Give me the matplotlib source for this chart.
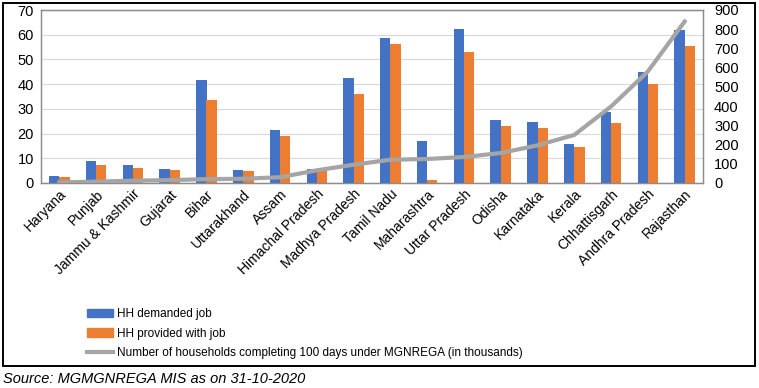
import numpy as np
import matplotlib
matplotlib.use("Agg")
import matplotlib.pyplot as plt
from matplotlib.patches import Rectangle, Patch
from matplotlib.lines import Line2D

states = ["Haryana", "Punjab", "Jammu & Kashmir", "Gujarat", "Bihar", "Uttarakhand",
          "Assam", "Himachal Pradesh", "Madhya Pradesh", "Tamil Nadu", "Maharashtra",
          "Uttar Pradesh", "Odisha", "Karnataka", "Kerala", "Chhattisgarh",
          "Andhra Pradesh", "Rajasthan"]
demanded = [3.0, 9.0, 7.1, 5.7, 41.7, 5.4, 21.5, 5.7, 42.3, 58.7, 17.1, 62.4,
            25.6, 24.6, 15.9, 28.9, 45.0, 61.9]
provided = [2.4, 7.4, 6.2, 5.2, 33.6, 4.8, 19.2, 5.1, 36.1, 56.4, 1.3, 53.0,
            23.1, 22.3, 14.4, 24.2, 40.1, 55.5]
completed_100 = [3, 7, 12, 15, 20, 22, 30, 66, 95, 121, 125, 135, 156, 196, 250,
                 398, 580, 840]

BLUE = "#4472c4"
ORANGE = "#ed7d31"
GREY = "#a5a5a5"

plt.rcParams["font.family"] = ["Liberation Sans", "DejaVu Sans"]

fig = plt.figure(figsize=(7.59, 3.88), dpi=100)
W, H = 759, 388

# outer frame
fig.patches.append(Rectangle((3 / W, 1 - 366 / H), 752 / W, 363 / H, transform=fig.transFigure,
                             fill=False, edgecolor="black", linewidth=1.4))

ax = fig.add_axes([41 / W, 1 - 183 / H, 662 / W, 173 / H])
x = np.arange(len(states))
bw = 0.28
ax.bar(x - bw / 2, demanded, bw, color=BLUE, zorder=3)
ax.bar(x + bw / 2, provided, bw, color=ORANGE, zorder=3)
ax.set_xlim(-0.5, len(states) - 0.5)
ax.set_ylim(0, 70)
ax.set_yticks(range(0, 71, 10))
ax.grid(axis="y", color="#d9d9d9", linewidth=0.8, zorder=0)
ax.set_xticks(x)
ax.set_xticklabels(states, rotation=45, ha="right", rotation_mode="anchor", fontsize=10)
ax.tick_params(axis="x", length=0, pad=3)
ax.tick_params(axis="y", length=0, labelsize=10.5, pad=5)
for s in ax.spines.values():
    s.set_color("#8c8c8c")
    s.set_linewidth(0.9)

ax2 = ax.twinx()
ax2.plot(x, completed_100, color=GREY, linewidth=3, zorder=4)
ax2.set_ylim(0, 900)
ax2.set_yticks(range(0, 901, 100))
ax2.tick_params(axis="y", length=0, labelsize=10.5, pad=8)
for s in ax2.spines.values():
    s.set_color("#8c8c8c")
    s.set_linewidth(0.9)

handles = [Patch(color=BLUE), Patch(color=ORANGE), Line2D([0], [0], color=GREY, linewidth=3)]
labels = ["HH demanded job", "HH provided with job",
          "Number of households completing 100 days under MGNREGA (in thousands)"]
fig.legend(handles, labels, loc="upper left", bbox_to_anchor=(87 / W, 1 - 308 / H),
           frameon=False, fontsize=8.5, handlelength=2.2, handleheight=0.7,
           labelspacing=0.65, handletextpad=0.3, borderpad=0, borderaxespad=0)

fig.text(3 / W, 1 - 379 / H, "Source: MGMGNREGA MIS as on 31-10-2020", fontsize=10.5,
         style="italic", va="center", ha="left")

fig.savefig("out.png", dpi=100)
